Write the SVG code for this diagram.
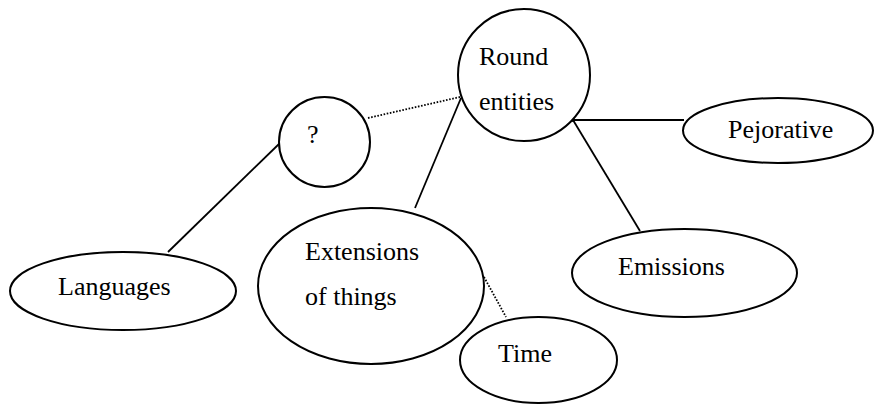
<svg xmlns="http://www.w3.org/2000/svg" width="877" height="404" viewBox="0 0 877 404">
  <style>
    .shape { fill: #ffffff; stroke: #000000; stroke-width: 2; }
    .link { stroke: #000000; stroke-width: 1.8; fill: none; }
    .dotted { stroke-dasharray: 1.6 1.6; }
    .label { font-family: 'Liberation Serif', 'DejaVu Serif', serif; font-size: 26px; fill: #000000; }
  </style>
  <rect width="877" height="404" fill="#ffffff"/>

  <!-- connectors -->
  <g id="connectors">
    <line class="link dotted" x1="368" y1="118" x2="460" y2="97"/>
    <line class="link" x1="461" y1="98" x2="415" y2="208"/>
    <line class="link" x1="280" y1="143" x2="168" y2="252"/>
    <line class="link" x1="573" y1="120" x2="684" y2="120"/>
    <line class="link" x1="573" y1="120" x2="640" y2="231"/>
    <line class="link dotted" x1="484" y1="277" x2="506" y2="317"/>
    <circle cx="573" cy="120" r="2" fill="#000000"/>
  </g>

  <g id="round-entities">
    <circle class="shape" cx="524" cy="75" r="66"/>
    <text class="label" font-family="Liberation Serif, serif" x="479" y="65">Round</text>
    <text class="label" font-family="Liberation Serif, serif" x="479" y="110">entities</text>
  </g>

  <g id="unknown">
    <ellipse class="shape" cx="324.5" cy="142" rx="45.5" ry="45"/>
    <text class="label" font-family="Liberation Serif, serif" x="307" y="143">?</text>
  </g>

  <g id="languages">
    <ellipse class="shape" cx="123" cy="291" rx="113" ry="39"/>
    <text class="label" font-family="Liberation Serif, serif" x="58" y="295">Languages</text>
  </g>

  <g id="extensions">
    <ellipse class="shape" cx="371" cy="286" rx="113" ry="78"/>
    <text class="label" font-family="Liberation Serif, serif" x="305" y="260">Extensions</text>
    <text class="label" font-family="Liberation Serif, serif" x="305" y="305">of things</text>
  </g>

  <g id="time">
    <ellipse class="shape" cx="538.5" cy="360" rx="78.5" ry="43"/>
    <text class="label" font-family="Liberation Serif, serif" x="498" y="362">Time</text>
  </g>

  <g id="emissions">
    <ellipse class="shape" cx="684.5" cy="273" rx="112.5" ry="44"/>
    <text class="label" font-family="Liberation Serif, serif" x="618" y="275">Emissions</text>
  </g>

  <g id="pejorative">
    <ellipse class="shape" cx="778" cy="130.5" rx="95" ry="32.5"/>
    <text class="label" font-family="Liberation Serif, serif" x="728" y="138">Pejorative</text>
  </g>
</svg>
